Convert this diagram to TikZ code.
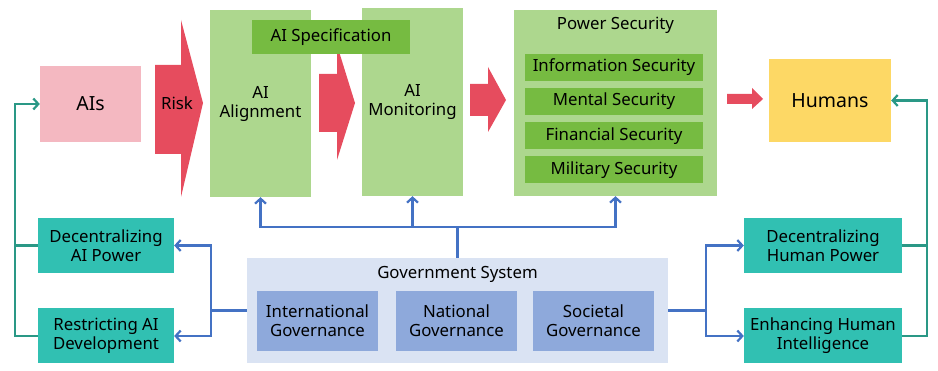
\documentclass[tikz,border=0pt]{standalone}
\usepackage{fontspec}
\setmainfont{Noto Sans}
\usepackage{tikz}
\usetikzlibrary{positioning, arrows.meta}
\usepackage{xcolor}

\definecolor{aipink}{HTML}{F4B8C1}
\definecolor{riskred}{HTML}{E64C5E}
\definecolor{lightgreen}{HTML}{ADD78E}
\definecolor{midgreen}{HTML}{76BB41}
\definecolor{humanyellow}{HTML}{FDD865}
\definecolor{tealfill}{HTML}{31C0B2}
\definecolor{tealline}{HTML}{2A9886}
\definecolor{govback}{HTML}{DAE3F3}
\definecolor{govbox}{HTML}{8EA9DB}
\definecolor{govline}{HTML}{4472C4}

\tikzset{
    box/.style={inner sep=0pt, align=center, font=\fontsize{16.8}{19}\selectfont},
    tealbox/.style={box, fill=tealfill, minimum width=136pt, minimum height=55pt},
    subsec/.style={box, fill=midgreen, minimum width=178pt, minimum height=27pt},
    subgov/.style={box, fill=govbox, minimum width=121pt, minimum height=60pt},
    blueline/.style={draw=govline, line width=2.2pt, -{Straight Barb[length=5pt, width=11pt]}},
    tealwire/.style={draw=tealline, line width=2.2pt}
}

\begin{document}
\begin{tikzpicture}[x=1pt, y=-1pt]
    \useasboundingbox (0,0) rectangle (938,371);

    % Top row
    \node[box, fill=aipink, minimum width=101pt, minimum height=76pt, font=\fontsize{19.5}{22}\selectfont] (ais) at (90.5,104) {AIs};
    \node[box, fill=lightgreen, minimum width=101pt, minimum height=187pt] (align) at (260.5,103.5) {AI\\Alignment};
    \node[box, fill=lightgreen, minimum width=101pt, minimum height=188pt] (monitor) at (412.5,102) {AI\\Monitoring};
    \node[box, fill=lightgreen, minimum width=203pt, minimum height=186pt] (power) at (615.5,103) {};
    \node[box, anchor=center] (powertitle) at (615.5,25) {Power Security};
    \node[box, fill=humanyellow, minimum width=122pt, minimum height=83pt, font=\fontsize{19.5}{22}\selectfont] (humans) at (830,100.5) {Humans};

    % Red block arrows
    \fill[riskred] (155,65) -- (181,65) -- (181,20) -- (203,103) -- (181,197) -- (181,154) -- (155,154) -- cycle;
    \node[box] (risk) at (177,103) {Risk};
    \fill[riskred] (319,74) -- (337,74) -- (337,45) -- (355,103) -- (337,160) -- (337,132) -- (319,132) -- cycle;
    \fill[riskred] (470,84) -- (488,84) -- (488,67) -- (506,100) -- (488,132) -- (488,116) -- (470,116) -- cycle;
    \fill[riskred] (727,94) -- (752,94) -- (752,88) -- (763,99) -- (752,109) -- (752,104) -- (727,104) -- cycle;

    % Specification across alignment and monitoring
    \node[box, fill=midgreen, minimum width=158pt, minimum height=34pt] (spec) at (331,37) {AI Specification};

    % Security types
    \node[subsec] (infosec) at (614,67.5) {Information Security};
    \node[subsec] (mentsec) at (614,101.5) {Mental Security};
    \node[subsec] (finsec) at (614,136) {Financial Security};
    \node[subsec] (milsec) at (614,170) {Military Security};

    % Government system
    \node[box, fill=govback, minimum width=421pt, minimum height=105pt] (gov) at (457.5,310.5) {};
    \node[box] (govtitle) at (457.5,274) {Government System};
    \node[subgov] (intgov) at (317.5,321) {International\\Governance};
    \node[subgov] (natgov) at (456.5,321) {National\\Governance};
    \node[subgov] (socgov) at (593.5,321) {Societal\\Governance};

    % Side measures
    \node[tealbox] (decai) at (106,245.5) {Decentralizing\\AI Power};
    \node[tealbox] (resai) at (106,336) {Restricting AI\\Development};
    \node[tealbox, minimum width=158pt] (dechum) at (823,245.5) {Decentralizing\\Human Power};
    \node[tealbox, minimum width=158pt] (enhhum) at (823,336) {Enhancing Human\\Intelligence};

    % Government links
    \coordinate (hub) at (457.5,227);
    \draw[blueline, -] (gov.north) -- (hub);
    \draw[blueline] (hub) -| (align.south);
    \draw[blueline] (hub) -| (monitor.south);
    \draw[blueline] (hub) -| (power.south);
    \coordinate (leftbus) at (211,310.5);
    \draw[blueline, -] (gov.west) -- (leftbus);
    \draw[blueline] (leftbus) |- (decai.east);
    \draw[blueline] (leftbus) |- (resai.east);
    \coordinate (rightbus) at (706,310.5);
    \draw[blueline, -] (gov.east) -- (rightbus);
    \draw[blueline] (rightbus) |- (dechum.west);
    \draw[blueline] (rightbus) |- (enhhum.west);

    % Feedback to AIs and humans
    \draw[tealwire] (decai.west) -- ++(-23,0);
    \draw[tealwire, -{Straight Barb[length=5pt, width=11pt]}] (resai.west) -- ++(-23,0) |- (ais.west);
    \draw[tealwire] (dechum.east) -- ++(25,0);
    \draw[tealwire, -{Straight Barb[length=5pt, width=11pt]}] (enhhum.east) -- ++(25,0) |- (humans.east);
\end{tikzpicture}
\end{document}
